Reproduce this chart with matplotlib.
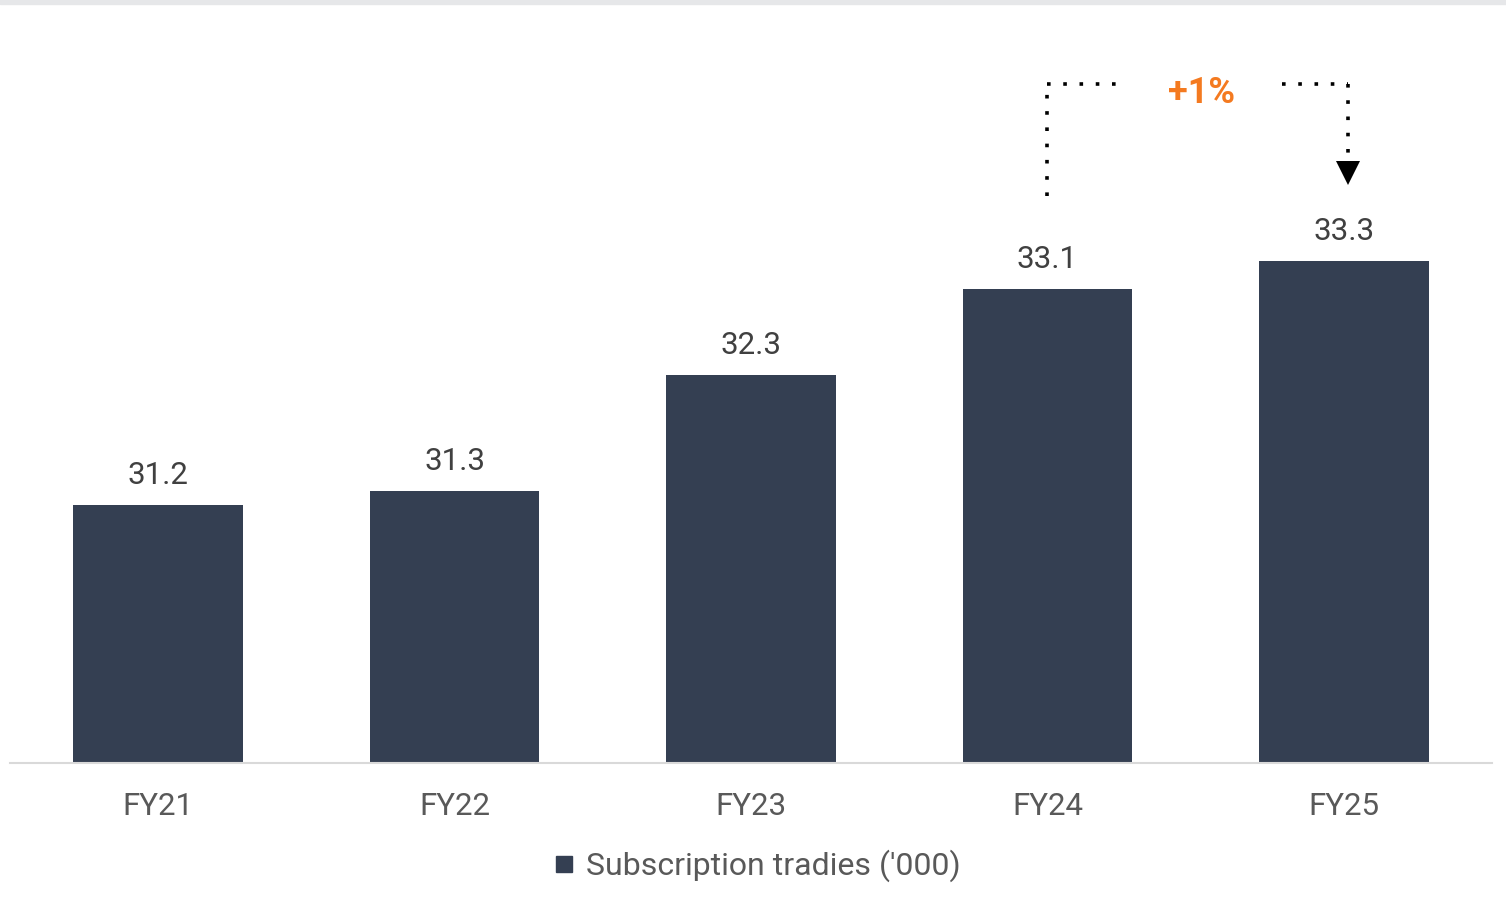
import matplotlib
matplotlib.use("Agg")
import matplotlib.pyplot as plt
from matplotlib.lines import Line2D
from matplotlib.patches import Rectangle

plt.rcParams['font.family'] = ['Roboto', 'DejaVu Sans']

categories = ["FY21", "FY22", "FY23", "FY24", "FY25"]
# bar heights (labels are rounded to one decimal)
values = [31.20, 31.32, 32.32, 33.06, 33.30]
series_name = "Subscription tradies ('000)"
growth_label = "+1%"

bar_color = "#343F52"
orange = "#F47A20"

fig = plt.figure(figsize=(15.06, 9.08), dpi=100)
fig.patches.append(Rectangle((0, 1 - 4 / 908), 1, 4 / 908, transform=fig.transFigure,
                             color="#E6E7E9", zorder=0))

ax = fig.add_axes([10 / 1506, 145 / 908, 1482 / 1506, 723 / 908])
x = range(len(categories))
ax.bar(x, values, width=0.572, color=bar_color, zorder=2)

ax.set_xlim(-0.5, 4.5)
ax.set_ylim(28.98, 28.98 + 723 / 116.2)

# value labels
for i, v in enumerate(values):
    ax.annotate(f"{v:.1f}", (i, v), xytext=(0, 11), textcoords="offset points",
                ha="center", va="bottom", fontsize=22.5, color="#404040")

# axes styling
for s in ["top", "right", "left"]:
    ax.spines[s].set_visible(False)
ax.spines["bottom"].set_color("#D9D9D9")
ax.spines["bottom"].set_linewidth(1.5)
ax.set_yticks([])
ax.set_xticks(list(x))
ax.set_xticklabels(categories, fontsize=22.5, color="#595959")
ax.tick_params(axis="x", length=0, pad=21)

# growth bracket FY24 -> FY25
i0, i1 = 3, 4
top = values[i1] + 1.52
dot = dict(color="black", linewidth=2.6, linestyle=(0, (1, 3.5)), dash_capstyle="butt")
ax.plot([i0, i0], [values[i0] + 0.8, top], **dot)
ax.plot([i0, i0 + 0.26], [top, top], **dot)
ax.plot([i1 - 0.21, i1 + 0.015], [top, top], **dot)
ax.plot([i1 + 0.015, i1 + 0.015], [top, values[i1] + 0.83], **dot)
ax.plot([i1 + 0.015], [values[i1] + 0.76], marker="v", markersize=17, color="black",
        markeredgewidth=0)
ax.text((i0 + i1) / 2 + 0.02, top - 0.07, growth_label, ha="center", va="center",
        fontsize=26, fontweight="bold", color=orange)

# legend
handle = Line2D([], [], marker="s", linestyle="none", markersize=12, color=bar_color)
fig.legend([handle], [series_name], loc="center", bbox_to_anchor=(757 / 1506, 42 / 908),
           frameon=False, fontsize=23, labelcolor="#595959", handlelength=0.7,
           handletextpad=0.35)

fig.savefig("out.png", dpi=100)
